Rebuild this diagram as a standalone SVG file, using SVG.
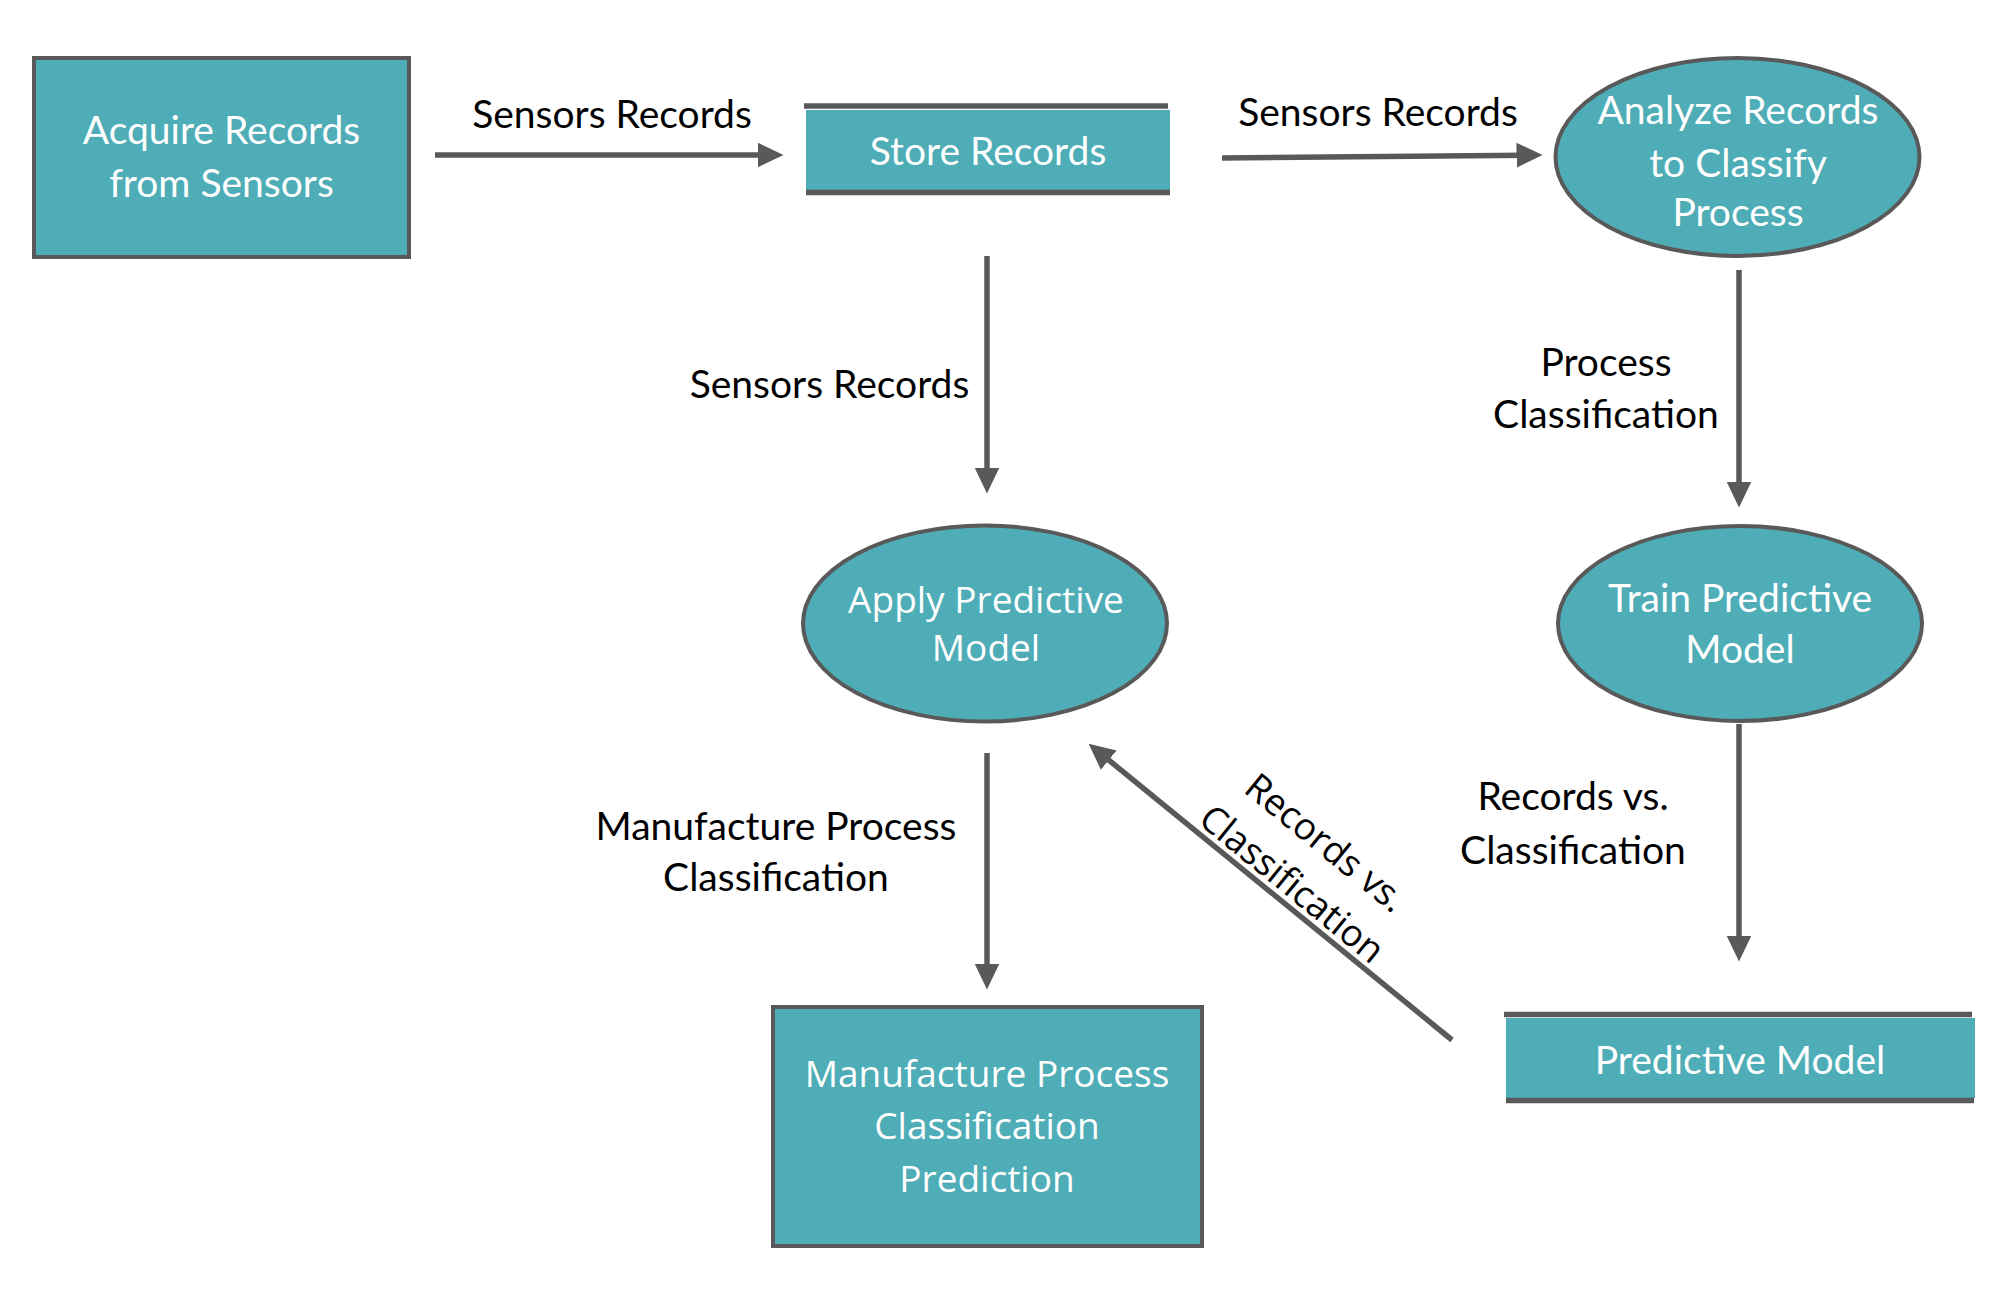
<svg xmlns="http://www.w3.org/2000/svg" width="2002" height="1316" viewBox="0 0 2002 1316">
<defs>
<style>
.node{fill:#4EADB7;stroke:#595959;stroke-width:4}
.fillonly{fill:#4EADB7}
.bar{stroke:#595959;stroke-width:5.5}
.conn{stroke:#595959;stroke-width:5.5;fill:none;marker-end:url(#arrow)}
.cal{font-family:Lato,"Liberation Sans",sans-serif;font-size:39px;text-anchor:middle}
.seg{font-family:"Open Sans","Noto Sans",sans-serif;font-size:37px;text-anchor:middle}
.w{fill:#FFFFFF}
.k{fill:#000000}
</style>
<marker id="arrow" markerUnits="userSpaceOnUse" markerWidth="26" markerHeight="26" viewBox="0 0 25 24" refX="12" refY="12" orient="auto">
<path d="M0,0 L25,12 L0,24 z" fill="#595959"/>
</marker>
</defs>
<rect width="2002" height="1316" fill="#FFFFFF"/>

<g id="connectors">
<line class="conn" x1="435" y1="155" x2="770" y2="155"/>
<line class="conn" x1="1222" y1="158" x2="1529" y2="155.1"/>
<line class="conn" x1="987" y1="256" x2="987" y2="480"/>
<line class="conn" x1="1739" y1="270" x2="1739" y2="494"/>
<line class="conn" x1="1739" y1="724" x2="1739" y2="948"/>
<line class="conn" x1="987" y1="753" x2="987" y2="976"/>
<line class="conn" x1="1452" y1="1040" x2="1099.1" y2="752.2"/>
</g>

<g id="connector-labels">
<text class="cal k" x="612" y="128">Sensors Records</text>
<text class="cal k" x="1378" y="126">Sensors Records</text>
<text class="cal k" x="829.5" y="398">Sensors Records</text>
<text class="cal k" x="1606" y="376">Process</text>
<text class="cal k" x="1606" y="428">Classification</text>
<text class="cal k" x="1573" y="810">Records vs.</text>
<text class="cal k" x="1573" y="864">Classification</text>
<text class="cal k" x="776" y="840">Manufacture Process</text>
<text class="cal k" x="776" y="891">Classification</text>
<g transform="translate(1310,862) rotate(39.2)">
<text class="seg k" x="0" y="-12">Records vs.</text>
<text class="seg k" x="0" y="41">Classification</text>
</g>
</g>

<g id="acquire">
<rect class="node" x="34" y="58" width="375" height="199"/>
<text class="cal w" x="221.5" y="144">Acquire Records</text>
<text class="cal w" x="221.5" y="197">from Sensors</text>
</g>

<g id="store">
<rect class="fillonly" x="806" y="110" width="364" height="80"/>
<line class="bar" x1="804" y1="106" x2="1168" y2="106"/>
<line class="bar" x1="806" y1="192.5" x2="1170" y2="192.5"/>
<text class="cal w" x="988" y="165">Store Records</text>
</g>

<g id="analyze">
<ellipse class="node" cx="1737.5" cy="157" rx="182" ry="99"/>
<text class="cal w" x="1738" y="124">Analyze Records</text>
<text class="cal w" x="1738" y="177">to Classify</text>
<text class="cal w" x="1738" y="226">Process</text>
</g>

<g id="train">
<ellipse class="node" cx="1740" cy="623.5" rx="182" ry="97.5"/>
<text class="cal w" x="1740" y="612">Train Predictive</text>
<text class="cal w" x="1740" y="663">Model</text>
</g>

<g id="apply">
<ellipse class="node" cx="985" cy="623.5" rx="182" ry="98"/>
<text class="seg w" x="986" y="613">Apply Predictive</text>
<text class="seg w" x="986" y="661">Model</text>
</g>

<g id="prediction">
<rect class="node" x="773" y="1007" width="429" height="239"/>
<text class="seg w" x="987" y="1087">Manufacture Process</text>
<text class="seg w" x="987" y="1139">Classification</text>
<text class="seg w" x="987" y="1192">Prediction</text>
</g>

<g id="model-store">
<rect class="fillonly" x="1506" y="1018" width="469" height="80"/>
<line class="bar" x1="1504" y1="1014.5" x2="1972" y2="1014.5"/>
<line class="bar" x1="1506" y1="1100.5" x2="1974" y2="1100.5"/>
<text class="cal w" x="1740" y="1074">Predictive Model</text>
</g>
</svg>
